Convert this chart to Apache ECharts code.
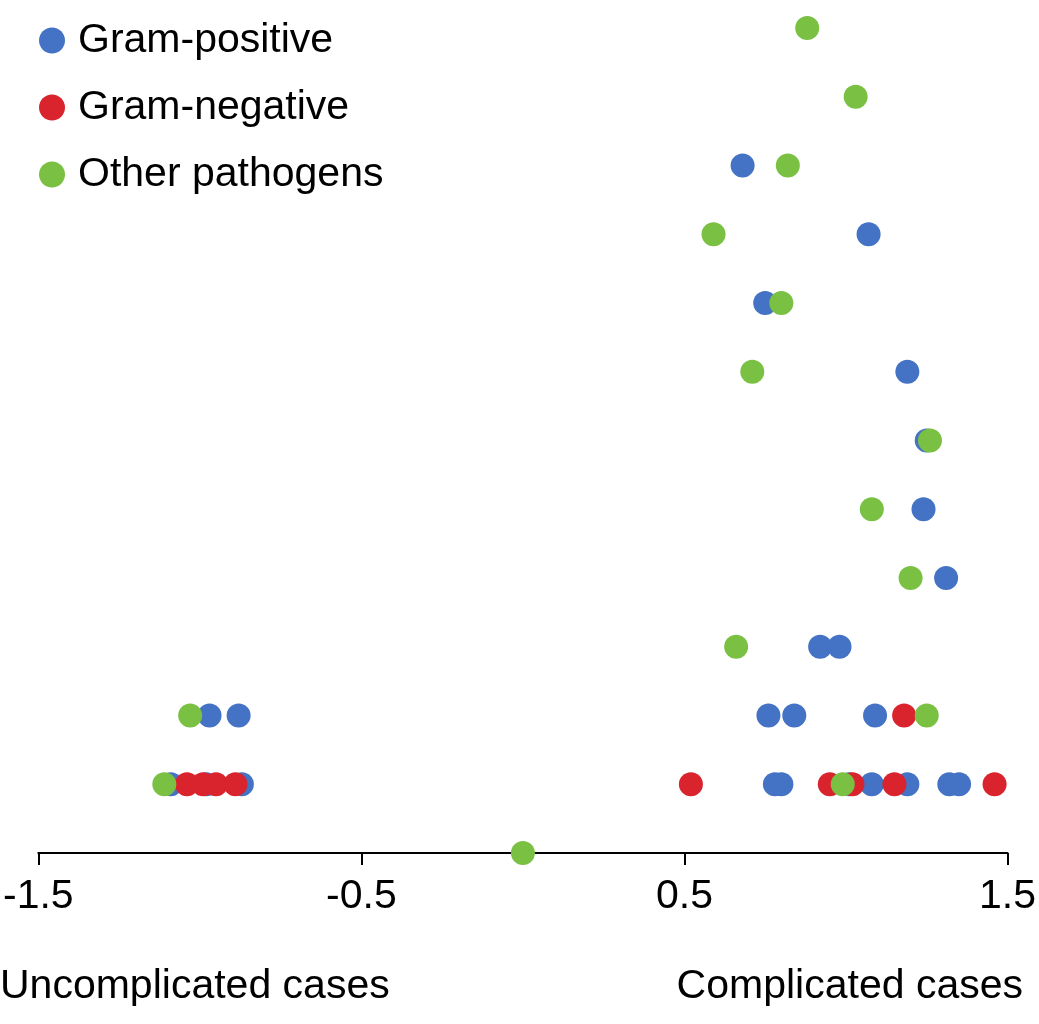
<!DOCTYPE html>
<html>
<head>
<meta charset="utf-8">
<script src="https://cdn.jsdelivr.net/npm/echarts@6/dist/echarts.min.js"></script>
<style>html,body{margin:0;padding:0;background:#fff}#main{width:1039px;height:1024px}</style>
</head>
<body>
<div id="main"></div>
<script>
// [x, row]
var gramPositive = [
  [0.68, 10], [1.07, 9], [0.75, 8], [1.19, 7], [1.25, 6], [1.24, 5], [1.31, 4],
  [0.92, 3], [0.98, 3],
  [-0.97, 2], [-0.88, 2], [0.76, 2], [0.84, 2], [1.09, 2],
  [-1.09, 1], [-0.98, 1], [-0.87, 1], [0.78, 1], [0.80, 1], [1.01, 1], [1.08, 1], [1.19, 1], [1.32, 1], [1.35, 1]
]
var gramNegative = [
  [1.18, 2],
  [-1.04, 1], [-0.99, 1], [-0.95, 1], [-0.89, 1], [0.52, 1], [0.95, 1], [1.02, 1], [1.15, 1], [1.46, 1]
]
var otherPathogens = [
  [0.88, 12], [1.03, 11], [0.82, 10], [0.59, 9], [0.80, 8], [0.71, 7], [1.26, 6], [1.08, 5], [1.20, 4],
  [0.66, 3], [-1.03, 2], [1.25, 2], [-1.11, 1], [0.99, 1], [0.0, 0]
]
var tickValues = [-1.5, -0.5, 0.5, 1.5]

var font = '"Liberation Sans Narrow", "Liberation Sans", Arial, sans-serif'
var myChart = echarts.init(document.getElementById('main'))

function series (name, data, color) {
  return { name: name, type: 'scatter', data: data, symbolSize: 24, itemStyle: { color: color, opacity: 1 } }
}

var option = {
  animation: false,
  textStyle: { fontFamily: font },
  grid: { left: 36, right: 29, top: 28, bottom: 171 },
  legend: {
    orient: 'vertical', left: 34, top: 15, itemGap: 26, itemWidth: 26, itemHeight: 26,
    icon: 'circle',
    textStyle: { fontSize: 41, color: '#000', fontFamily: font, padding: [0, 0, 0, 8] },
    data: ['Gram-positive', 'Gram-negative', 'Other pathogens']
  },
  xAxis: {
    type: 'value', min: -1.5, max: 1.5,
    splitLine: { show: false },
    axisLine: { lineStyle: { color: '#000', width: 2 } },
    axisTick: { show: true, length: 12, customValues: tickValues, lineStyle: { color: '#000', width: 2 } },
    axisLabel: { customValues: tickValues, fontSize: 41, color: '#000', margin: 44, verticalAlign: 'middle', fontFamily: font }
  },
  yAxis: { type: 'value', min: 0, max: 12, show: false },
  graphic: [
    { type: 'text', left: 0, top: 966, style: { text: 'Uncomplicated cases', fontSize: 41, fill: '#000', fontFamily: font } },
    { type: 'text', right: 16, top: 966, style: { text: 'Complicated cases', fontSize: 41, fill: '#000', fontFamily: font } }
  ],
  series: [
    series('Gram-positive', gramPositive, '#4472c4'),
    series('Gram-negative', gramNegative, '#d9232d'),
    series('Other pathogens', otherPathogens, '#7ac143')
  ]
}
myChart.setOption(option)
</script>
</body>
</html>
